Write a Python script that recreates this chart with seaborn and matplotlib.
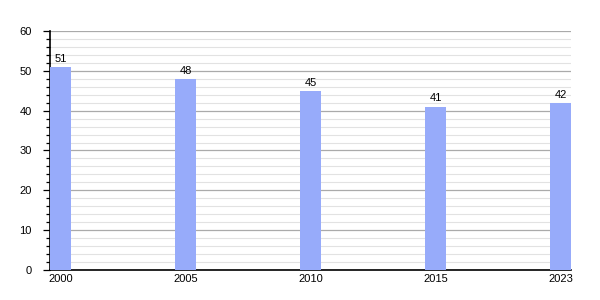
import matplotlib
matplotlib.use("Agg")
import matplotlib.pyplot as plt
import seaborn as sns
import pandas as pd
from matplotlib.ticker import MultipleLocator

years = ["2000", "2005", "2010", "2015", "2023"]
values = [51, 48, 45, 41, 42]

df = pd.DataFrame({"year": years, "value": values})

sns.set_style("white")
plt.rcParams['font.family'] = ['Liberation Sans', 'DejaVu Sans']

fig = plt.figure(figsize=(6, 3), dpi=100)
ax = fig.add_axes([0.0833, 0.1, 0.8687, 0.7967])

sns.barplot(data=df, x="year", y="value", color="#97abfa", saturation=1,
            width=0.168, ax=ax, zorder=3, linewidth=0)

ax.set_xlim(-0.084, 4.084)
ax.set_ylim(0, 60)
ax.yaxis.set_major_locator(MultipleLocator(10))
ax.yaxis.set_minor_locator(MultipleLocator(2))
ax.grid(which="major", axis="y", color="#aaaaaa", linewidth=0.9, zorder=0)
ax.grid(which="minor", axis="y", color="#e2e2e2", linewidth=0.8, zorder=0)
ax.set_axisbelow(True)

for s in ["top", "right"]:
    ax.spines[s].set_visible(False)
for s in ["left", "bottom"]:
    ax.spines[s].set_color("black")
    ax.spines[s].set_linewidth(1.2)

ax.tick_params(axis="y", which="major", length=5, width=0.9, color="black",
               labelsize=8, pad=8, left=True, labelcolor="black")
ax.tick_params(axis="y", which="minor", length=3, width=0.9, color="black", left=True)
ax.tick_params(axis="x", length=0, labelsize=8, pad=3, labelcolor="black")
ax.set_xlabel("")
ax.set_ylabel("")

for i, v in enumerate(values):
    ax.text(i, v + 0.8, str(v), ha="center", va="bottom", fontsize=8, color="black")

fig.savefig("out.png", dpi=100)
